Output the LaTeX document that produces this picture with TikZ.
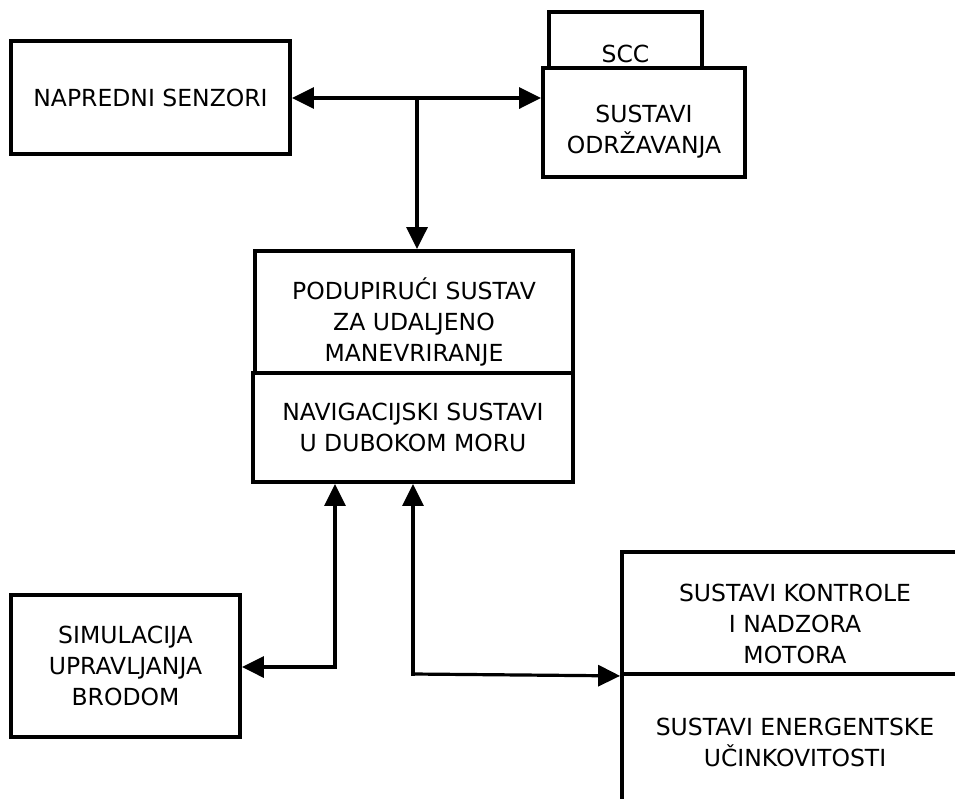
\documentclass[tikz,border=0pt]{standalone}
\usepackage{fontspec}
\setmainfont{DejaVu Sans}
\usetikzlibrary{arrows.meta}

\begin{document}
\begin{tikzpicture}[x=1pt,y=-1pt,
    box/.style={draw, line width=3.8pt, fill=white, align=center, inner sep=0pt,
        font=\fontsize{23.5}{31}\selectfont},
    arr/.style={line width=3.2pt, line cap=rect, -{Triangle[length=22pt,width=21pt]}}]
    \clip (0,0) rectangle (955,798);
    \fill[white] (0,0) rectangle (955,798);

    \node[box, minimum width=279pt, minimum height=113pt] (senzori) at (150.5,97.5) {NAPREDNI SENZORI};
    \node[box, minimum width=153pt, minimum height=84pt] (scc) at (625.5,54) {SCC};
    \node[box, minimum width=202pt, minimum height=109pt] (odrzavanje) at (644,122.5) {\rule{0pt}{35pt}SUSTAVI\\ODRŽAVANJA};
    \node[box, minimum width=318pt, minimum height=122pt] (manevar) at (414,312) {\rule{0pt}{41pt}PODUPIRUĆI SUSTAV\\ZA UDALJENO\\MANEVRIRANJE};
    \node[box, minimum width=320pt, minimum height=109pt] (navigacija) at (413,427.5) {NAVIGACIJSKI SUSTAVI\\U DUBOKOM MORU};
    \node[box, minimum width=229pt, minimum height=142pt] (simulacija) at (125.5,666) {SIMULACIJA\\UPRAVLJANJA\\BRODOM};
    \node[box, minimum width=346pt, minimum height=122pt] (motori) at (795,613) {\rule{0pt}{40pt}SUSTAVI KONTROLE\\I NADZORA\\MOTORA};
    \node[box, minimum width=346pt, minimum height=136pt] (energija) at (795,742) {SUSTAVI ENERGENTSKE\\UČINKOVITOSTI};

    \coordinate (gore) at (417,98);
    \coordinate (lijevo) at (335,667);
    \coordinate (desno) at (413,674);

    \draw[arr] (gore) -- (senzori.east |- gore);
    \draw[arr] (gore) -- (odrzavanje.west |- gore);
    \draw[arr] (gore) -- (gore |- manevar.north);
    \draw[arr] (lijevo) -- (lijevo -| simulacija.east);
    \draw[arr] (lijevo) -- (lijevo |- navigacija.south);
    \draw[arr] (desno) -- (desno |- navigacija.south);
    \draw[arr] (desno) -- (motori.south west);
\end{tikzpicture}
\end{document}
